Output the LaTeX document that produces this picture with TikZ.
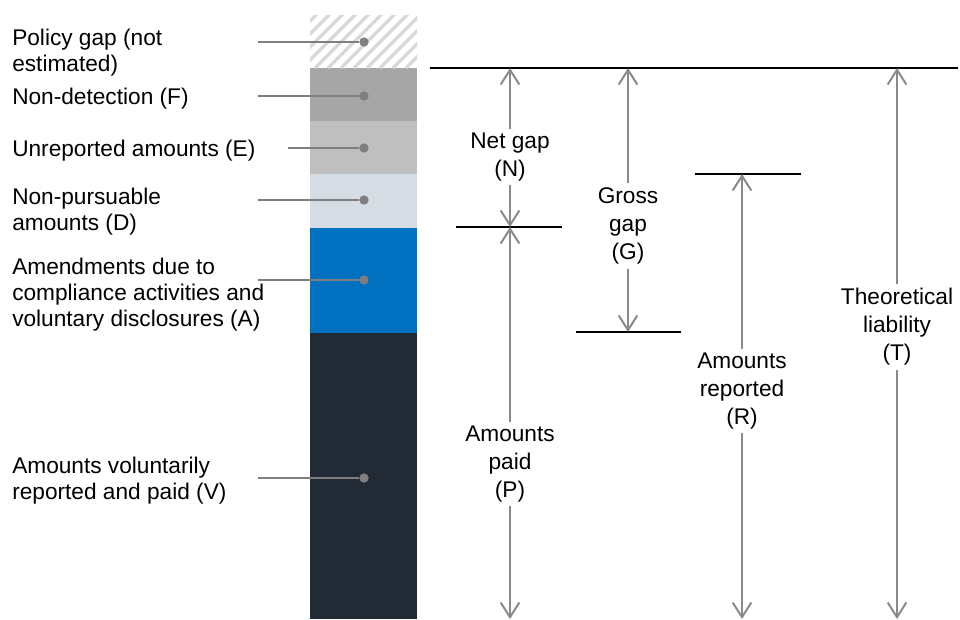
\documentclass[tikz,border=0pt]{standalone}
\usepackage{fontspec}
\setmainfont{Liberation Sans}
\usetikzlibrary{%
    arrows.meta,
    calc,
    positioning
}

\definecolor{leadgrey}{HTML}{7F7F7F}
\definecolor{spangrey}{HTML}{8A8A8A}
\definecolor{hatchgrey}{HTML}{D9D9D9}
\definecolor{gapF}{HTML}{A6A6A6}
\definecolor{gapE}{HTML}{BFBFBF}
\definecolor{gapD}{HTML}{D6DCE4}
\definecolor{gapA}{HTML}{0070C0}
\definecolor{gapV}{HTML}{222A35}

\begin{document}
\begin{tikzpicture}[x=0.75pt, y=-0.75pt,
        every node/.style={inner sep=0pt},
        lbl/.style={anchor=west, align=left,
                    font=\fontsize{17}{19.5}\selectfont},
        msr/.style={align=center, inner sep=3pt,
                    font=\fontsize{17}{21}\selectfont},
        dot/.style={circle, fill=leadgrey, minimum size=7pt},
        lead/.style={leadgrey, line width=1.5pt},
        level/.style={black, line width=2pt},
        span/.style={spangrey, line width=1.5pt,
                     -{Straight Barb[length=11pt,width=14pt]}},
        hatch/.style={hatchgrey, line width=2.5pt}
    ]
    \useasboundingbox (0,0) rectangle (960,619);

    % the bar
    \foreach \Top/\Bot/\Col in {68/121/gapF, 121/174/gapE, 174/228/gapD,
                                228/333/gapA, 333/619/gapV}
        \fill[\Col] (310,\Top) rectangle (417,\Bot);
    \begin{scope}
        \clip (310,15) rectangle (417,68);
        \foreach \k in {0,...,14}
            \draw[hatch] ({250+\k*13},68) -- ++(60,-60);
    \end{scope}

    % labels on the left
    \node[lbl] (txtP) at (12,53)  {Policy gap (not\\estimated)};
    \node[lbl] (txtF) at (12,99)  {Non-detection (F)};
    \node[lbl] (txtE) at (12,151) {Unreported amounts (E)};
    \node[lbl] (txtD) at (12,212) {Non-pursuable\\amounts (D)};
    \node[lbl] (txtA) at (12,295) {Amendments due to\\compliance activities and\\voluntary disclosures (A)};
    \node[lbl] (txtV) at (12,481) {Amounts voluntarily\\reported and paid (V)};

    \foreach \Name/\X/\Y in {P/258/42, F/258/96, E/288/148,
                             D/258/200, A/258/280, V/258/478} {
        \node[dot] (dot\Name) at (364,\Y) {};
        \coordinate (lead\Name) at (\X,\Y);
        \draw[lead] (lead\Name) -- (dot\Name);
    }

    % levels
    \coordinate (topL)   at (430,68);  \coordinate (topR)   at (958,68);
    \coordinate (paidL)  at (456,227); \coordinate (paidR)  at (562,227);
    \coordinate (grossL) at (576,332); \coordinate (grossR) at (681,332);
    \coordinate (repL)   at (695,174); \coordinate (repR)   at (801,174);
    \coordinate (bottom) at (0,619);
    \foreach \Line in {top, paid, gross, rep}
        \draw[level] (\Line L) -- (\Line R);

    % measures
    \node[msr] (lblN) at (510,157) {Net gap\\(N)};
    \node[msr] (lblP) at (510,464) {Amounts\\paid\\(P)};
    \node[msr] (lblG) at (628,226) {Gross\\gap\\(G)};
    \node[msr] (lblR) at (742,391) {Amounts\\reported\\(R)};
    \node[msr] (lblT) at (897,327) {Theoretical\\liability\\(T)};

    \foreach \Node/\Up/\Down in {N/topL/paidL, P/paidL/bottom,
                                 G/topL/grossL, R/repL/bottom,
                                 T/topL/bottom} {
        \draw[span] (lbl\Node) -- (lbl\Node |- \Up);
        \draw[span] (lbl\Node) -- (lbl\Node |- \Down);
    }
\end{tikzpicture}
\end{document}
